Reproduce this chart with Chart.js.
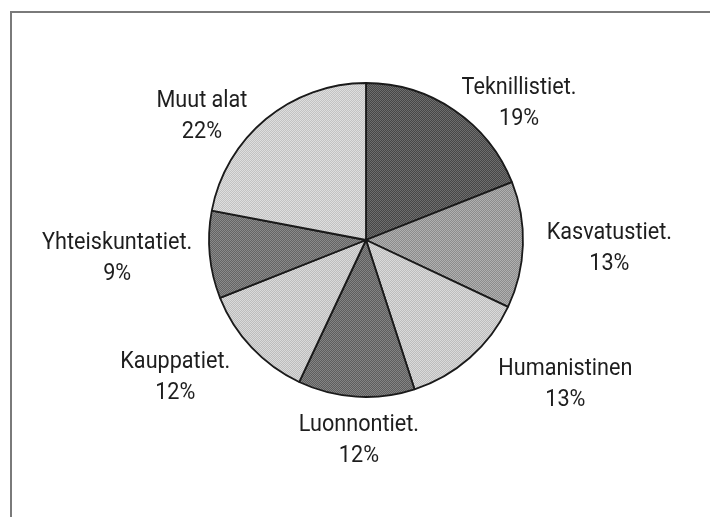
<!DOCTYPE html>
<html>
<head>
<meta charset="utf-8">
<script src="https://cdn.jsdelivr.net/npm/chart.js@4.4.1/dist/chart.umd.min.js"></script>
<style>
  html, body { margin: 0; padding: 0; background: #ffffff; }
  #wrap { width: 710px; height: 517px; position: relative; }
</style>
</head>
<body>
<div id="wrap"><canvas id="c" width="710" height="517"></canvas></div>
<script>
// ---- Data ----
const categories = ["Teknillistiet.", "Kasvatustiet.", "Humanistinen", "Luonnontiet.", "Kauppatiet.", "Yhteiskuntatiet.", "Muut alat"];
const shares = [19, 13, 13, 12, 12, 9, 22];
const percentLabels = ["19%", "13%", "13%", "12%", "12%", "9%", "22%"];

// ---- Styling ----
const toneA = ["#474747", "#8c8c8c", "#bdbdbd", "#5e5e5e", "#bdbdbd", "#646464", "#c2c2c2"];
const toneB = ["#6e6e6e", "#b0b0b0", "#dadada", "#848484", "#dadada", "#8a8a8a", "#dedede"];
// label placement: offset from pie centre, in units of pie radius
const labelOffsets = [
  [0.975, -0.87], [1.55, 0.05], [1.27, 0.915], [-0.045, 1.275],
  [-1.215, 0.875], [-1.585, 0.115], [-1.045, -0.79]
];

function makePattern(a, b) {
  const p = document.createElement('canvas');
  p.width = 2; p.height = 2;
  const g = p.getContext('2d');
  g.fillStyle = a; g.fillRect(0, 0, 2, 2);
  g.fillStyle = b; g.fillRect(0, 0, 1, 1); g.fillRect(1, 1, 1, 1);
  return g.createPattern(p, 'repeat');
}
const fills = toneA.map((a, i) => makePattern(a, toneB[i]));

const FONT = "Roboto, 'Liberation Sans', sans-serif";

const framePlugin = {
  id: 'frame',
  beforeDraw(chart) {
    const c = chart.ctx;
    c.save();
    c.fillStyle = '#ffffff';
    c.fillRect(0, 0, chart.width, chart.height);
    c.strokeStyle = '#7a7a7a';
    c.lineWidth = 2;
    c.beginPath();
    c.moveTo(11, chart.height);
    c.lineTo(11, 12);
    c.lineTo(chart.width, 12);
    c.stroke();
    c.restore();
  }
};

const labelPlugin = {
  id: 'sliceLabels',
  afterDatasetsDraw(chart) {
    const meta = chart.getDatasetMeta(0);
    const c = chart.ctx;
    c.save();
    c.fillStyle = '#1e1e1e';
    c.font = "24px " + FONT;
    c.textAlign = 'center';
    c.textBaseline = 'middle';
    // condense the type horizontally, like the original's condensed face
    const sx = 115 / c.measureText(chart.data.labels[0]).width;
    meta.data.forEach((arc, i) => {
      const r = arc.outerRadius;
      const cx = arc.x + labelOffsets[i][0] * r;
      const cy = arc.y + labelOffsets[i][1] * r;
      c.save();
      c.translate(cx, cy);
      c.scale(sx, 1);
      c.fillText(chart.data.labels[i], 0, -15);
      c.fillText(percentLabels[i], 0, 16);
      c.restore();
    });
    c.restore();
  }
};

new Chart(document.getElementById('c'), {
  type: 'pie',
  data: {
    labels: categories,
    datasets: [{
      data: shares,
      backgroundColor: fills,
      borderColor: '#1a1a1a',
      borderWidth: 1.8,
      borderAlign: 'center'
    }]
  },
  options: {
    responsive: false,
    animation: false,
    devicePixelRatio: 1,
    radius: 157,
    layout: { padding: { left: 166, right: 144, top: 40, bottom: 77 } },
    plugins: {
      legend: { display: false },
      tooltip: { enabled: false },
      title: { display: false }
    }
  },
  plugins: [framePlugin, labelPlugin]
});
</script>
</body>
</html>
